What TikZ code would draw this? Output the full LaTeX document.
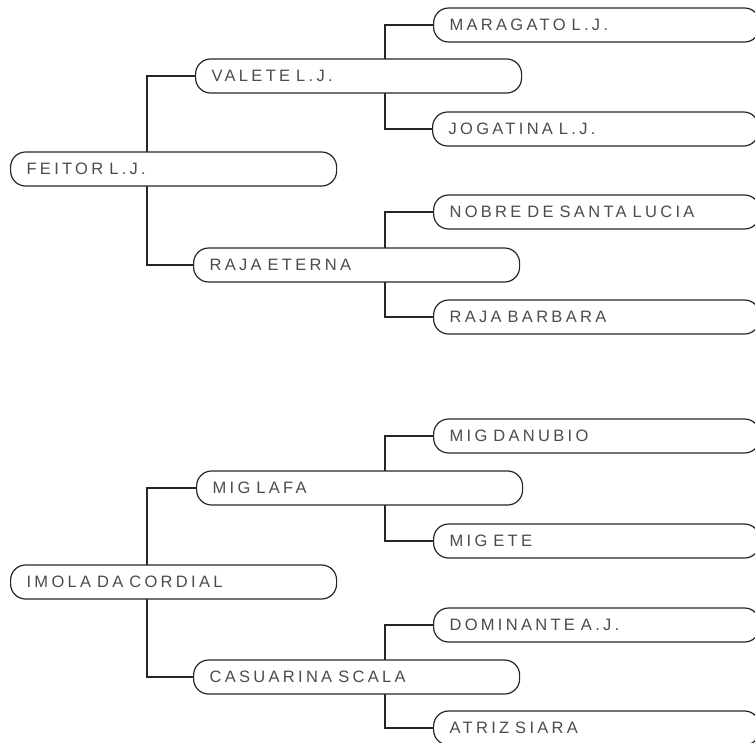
\documentclass[tikz,border=0pt]{standalone}
\usepackage{fontspec}
\usepackage{tikz}
\usetikzlibrary{backgrounds}
\newfontfamily\horsefont[LetterSpace=20]{Liberation Sans}
\newcommand\horsetype{\horsefont\fontsize{16.5}{18}\selectfont}
\newcommand\gap{\hspace{6pt}}

\begin{document}
\begin{tikzpicture}[x=1pt, y=-1pt,
                        horse/.style={draw=black!85, line width=1.2pt, fill=white, rounded corners=15pt,
                                      minimum height=34pt, text width=294pt, inner xsep=16pt, align=left,
                                      anchor=west, font=\horsetype, text=black!70},
                        link/.style={line width=1.2pt, black!85}]
        \useasboundingbox (0,0) rectangle (755,742);

        % first pedigree
        \node[horse] (feitor)   at (10,169)  {FEITOR\gap L.J.};
        \node[horse] (valete)   at (195,76)  {VALETE\gap L.J.};
        \node[horse] (raja)     at (193,265) {RAJA\gap ETERNA};
        \node[horse] (maragato) at (433,25)  {MARAGATO\gap L.J.};
        \node[horse] (jogatina) at (432,129) {JOGATINA\gap L.J.};
        \node[horse] (nobre)    at (433,212) {NOBRE\gap DE\gap SANTA\gap LUCIA};
        \node[horse] (barbara)  at (433,317) {RAJA\gap BARBARA};

        % second pedigree
        \node[horse] (imola)     at (10,582)  {IMOLA\gap DA\gap CORDIAL};
        \node[horse] (miglafa)   at (196,488) {MIG\gap LAFA};
        \node[horse] (casuarina) at (193,677) {CASUARINA\gap SCALA};
        \node[horse] (danubio)   at (433,436) {MIG\gap DANUBIO};
        \node[horse] (migete)    at (433,541) {MIG\gap ETE};
        \node[horse] (dominante) at (433,625) {DOMINANTE\gap A.J.};
        \node[horse] (atriz)     at (433,728) {ATRIZ\gap SIARA};

        \begin{scope}[on background layer]
            \draw[link] (valete.west) -- ++(-48,0) |- (raja.west);
            \draw[link] (maragato.west) -- ++(-48,0) |- (jogatina.west);
            \draw[link] (nobre.west) -- ++(-48,0) |- (barbara.west);
            \draw[link] (miglafa.west) -- ++(-49,0) |- (casuarina.west);
            \draw[link] (danubio.west) -- ++(-48,0) |- (migete.west);
            \draw[link] (dominante.west) -- ++(-48,0) |- (atriz.west);
        \end{scope}
    \end{tikzpicture}
\end{document}
